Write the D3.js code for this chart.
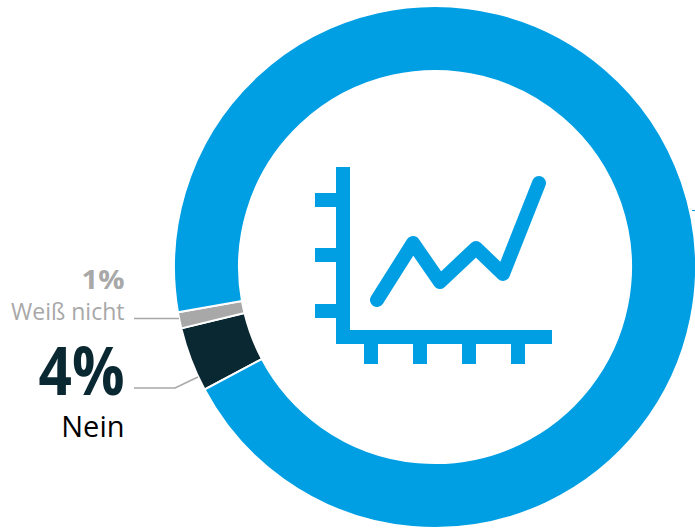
<!DOCTYPE html>
<html>
<head>
<meta charset="utf-8">
<script src="https://cdn.jsdelivr.net/npm/d3@7"></script>
<style>
html, body { margin: 0; padding: 0; background: #fff; overflow: hidden; }
text { font-family: "Open Sans", sans-serif; }
</style>
</head>
<body>
<div id="chart"></div>
<script>
// donut data
const categories = ['Nein', 'Weiß nicht', 'Ja'];
const values = [4, 1, 95];
const colors = ['#0a2832', '#a8a8a8', '#009fe3'];

// line inside the icon
const iconLineX = [62, 98, 125, 161, 188, 224];
const iconLineY = [133, 76, 115, 81, 107, 16];
const iconTicksY = [33, 88, 144];
const iconTicksX = [56, 105, 154, 203];

const width = 695, height = 529;
const svg = d3.select('#chart').append('svg')
	.attr('width', width)
	.attr('height', height)
	.style('display', 'block');

// donut
const cx = 435, cy = 267;
const pie = d3.pie().sort(null).value(d => d)
	.startAngle(242 * Math.PI / 180)
	.endAngle((242 + 360) * Math.PI / 180);
const arc = d3.arc().innerRadius(196).outerRadius(261);

svg.append('g')
	.attr('transform', `translate(${cx},${cy})`)
	.selectAll('path')
	.data(pie(values))
	.join('path')
	.attr('d', arc)
	.attr('fill', (d, i) => colors[i])
	.attr('stroke', '#fff')
	.attr('stroke-width', 2);

// icon, 1 unit = 1 px in the picture
const ix = d3.scaleLinear().domain([0, 237]).range([315, 552]);
const iy = d3.scaleLinear().domain([0, 197]).range([167, 364]);
const blue = colors[2];
const icon = svg.append('g');

icon.append('rect') // vertical axis
	.attr('x', ix(21)).attr('y', iy(0))
	.attr('width', ix(35) - ix(21)).attr('height', iy(177) - iy(0))
	.attr('fill', blue);
icon.append('rect') // horizontal axis
	.attr('x', ix(21)).attr('y', iy(163))
	.attr('width', ix(237) - ix(21)).attr('height', iy(177) - iy(163))
	.attr('fill', blue);
icon.selectAll('.tickY').data(iconTicksY).join('rect')
	.attr('class', 'tickY')
	.attr('x', ix(0)).attr('y', d => iy(d) - 7)
	.attr('width', ix(21) - ix(0)).attr('height', 14)
	.attr('fill', blue);
icon.selectAll('.tickX').data(iconTicksX).join('rect')
	.attr('class', 'tickX')
	.attr('x', d => ix(d) - 7).attr('y', iy(177))
	.attr('width', 14).attr('height', iy(197) - iy(177))
	.attr('fill', blue);

const line = d3.line().x(d => ix(d[0])).y(d => iy(d[1]));
icon.append('path')
	.attr('d', line(d3.zip(iconLineX, iconLineY)))
	.attr('fill', 'none')
	.attr('stroke', blue)
	.attr('stroke-width', 14)
	.attr('stroke-linecap', 'round')
	.attr('stroke-linejoin', 'round');

// leader lines
const leaders = svg.append('g').attr('fill', 'none').attr('stroke', '#a8a8a8').attr('stroke-width', 1.5);
leaders.append('path').attr('d', d3.line()([[134, 318.5], [179, 318.5]]));
leaders.append('path').attr('d', d3.line()([[134, 388], [175, 388], [198, 377]]));
svg.append('path') // rest of a leader on the right edge
	.attr('d', d3.line()([[692, 210.5], [695, 210.5]]))
	.attr('stroke', blue).attr('stroke-width', 1);

// labels, textLength keeps the widths of the original font
function label(txt, y, size, weight, color, len) {
	let t = svg.append('text')
		.attr('x', 124.5).attr('y', y)
		.attr('text-anchor', 'end')
		.attr('font-size', size)
		.attr('font-weight', weight)
		.attr('fill', color)
		.text(txt);
	if (len) t.attr('textLength', len).attr('lengthAdjust', 'spacingAndGlyphs');
}
label(values[1] + '%', 289, 27, 700, '#a8a8a8', 43);
label(categories[1], 320, 23, 400, '#a8a8a8');
label(values[0] + '%', 395, 66, 700, colors[0], 86);
label(categories[0], 437, 29, 400, '#000');
</script>
</body>
</html>
